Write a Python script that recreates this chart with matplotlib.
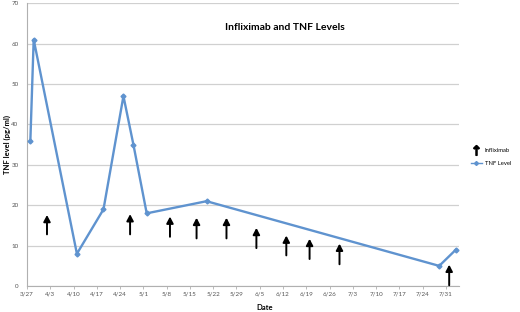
import numpy as np
import pandas as pd
import matplotlib
matplotlib.use("Agg")
import matplotlib.pyplot as plt
from matplotlib.lines import Line2D

plt.rcParams['font.family'] = ['Lato', 'DejaVu Sans']

YEAR = 2011

# TNF measurements
tnf_dates = ["3/28", "3/29", "4/11", "4/19", "4/25", "4/28", "5/2", "5/20", "7/29", "8/3"]
tnf_values = [36, 61, 8, 19, 47, 35, 18, 21, 5, 9]

# Infliximab doses (arrow base / tip on the y scale)
dose_dates = ["4/2", "4/27", "5/9", "5/17", "5/26", "6/4", "6/13", "6/20", "6/29", "8/1"]
dose_base = [12.8, 12.8, 12.2, 11.8, 11.8, 9.4, 7.6, 6.7, 5.4, 0.2]
dose_tip = [17.6, 17.8, 17.2, 16.9, 16.9, 14.4, 12.5, 11.7, 10.5, 5.3]

tick_labels = ["3/27", "4/3", "4/10", "4/17", "4/24", "5/1", "5/8", "5/15", "5/22",
               "5/29", "6/5", "6/12", "6/19", "6/26", "7/3", "7/10", "7/17", "7/24", "7/31"]


def to_dt(lst):
    return pd.to_datetime([f"{YEAR}/{d}" for d in lst], format="%Y/%m/%d")


tnf_x = to_dt(tnf_dates)
dose_x = to_dt(dose_dates)
tick_x = to_dt(tick_labels)

fig = plt.figure(figsize=(5.2, 3.12), dpi=100)
ax = fig.add_axes([0.052, 0.083, 0.831, 0.907])

blue = '#5f93cf'
ax.plot(tnf_x, tnf_values, color=blue, lw=1.7, marker='D', ms=2.5,
        markerfacecolor=blue, markeredgecolor=blue, zorder=3)

for x, b, t in zip(dose_x, dose_base, dose_tip):
    ax.annotate("", xy=(x, t), xytext=(x, b),
                arrowprops=dict(arrowstyle='-|>,head_width=0.2,head_length=0.38',
                                color='black', lw=1.4, shrinkA=0, shrinkB=0))

ax.set_ylim(0, 70)
ax.set_yticks(np.arange(0, 71, 10))
ax.set_xlim(pd.Timestamp(f"{YEAR}-03-27"), pd.Timestamp(f"{YEAR}-08-04"))
ax.set_xticks(tick_x)
ax.set_xticklabels(tick_labels)

ax.grid(axis='y', color='#d0d0d0', lw=0.9)
ax.set_axisbelow(True)
for s in ['top', 'right']:
    ax.spines[s].set_visible(False)
for s in ['left', 'bottom']:
    ax.spines[s].set_color('#b0b0b0')
    ax.spines[s].set_linewidth(0.8)
ax.tick_params(axis='both', labelsize=4.5, colors='#555555', length=2,
               width=0.6, pad=2)
ax.tick_params(axis='x', color='#b0b0b0')
ax.tick_params(axis='y', length=0, pad=6)

ax.set_ylabel("TNF level (pg/ml)", fontsize=5.5, fontweight='bold')
ax.yaxis.set_label_coords(-0.036, 0.5)
ax.set_xlabel("Date", fontsize=5.5, fontweight='bold', labelpad=1)
ax.xaxis.set_label_coords(0.55, -0.065)

fig.text(0.548, 0.912, "Infliximab and TNF Levels", fontsize=7.5,
         fontweight='bold', ha='center', va='center')

handles = [
    Line2D([], [], color='black', marker=r'$\uparrow$', ms=7, ls='none'),
    Line2D([], [], color=blue, marker='D', ms=2, lw=1),
]
fig.legend(handles, ["Infliximab", "TNF Level"], loc='center left',
           bbox_to_anchor=(0.895, 0.497), frameon=False, fontsize=4.2,
           handlelength=2.0, handletextpad=0.4, labelspacing=1.4)

fig.savefig("out.png", dpi=100)
